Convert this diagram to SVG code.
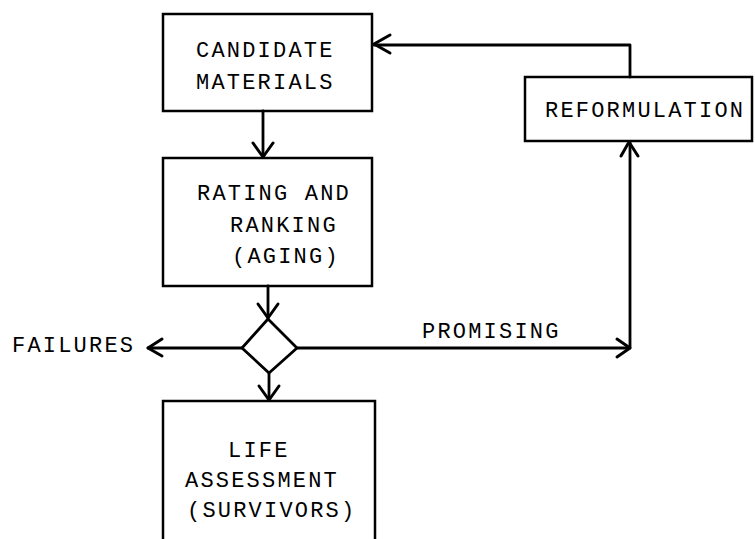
<svg xmlns="http://www.w3.org/2000/svg" width="755" height="539" viewBox="0 0 755 539">
<style>
.box{fill:none;stroke:#000;stroke-width:2.5}
.ln{fill:none;stroke:#000;stroke-width:2.8;stroke-linejoin:round;stroke-linecap:round}
.hd{fill:none;stroke:#000;stroke-width:3;stroke-linecap:round;stroke-linejoin:round}
text{font-family:"Liberation Mono","Courier New",monospace;font-size:22px;letter-spacing:2.2px;fill:#000}
</style>
<rect width="755" height="539" fill="#fff"/>
<g id="candidate">
<rect class="box" x="163" y="14" width="209" height="97"/>
<text x="196" y="57">CANDIDATE</text>
<text x="196" y="89">MATERIALS</text>
</g>
<g id="rating">
<rect class="box" x="163" y="158" width="209" height="128"/>
<text x="197" y="200">RATING AND</text>
<text x="230" y="232">RANKING</text>
<text x="232" y="263">(AGING)</text>
</g>
<g id="decision">
<polygon class="ln" points="268,319 297,348 269,373 242,348"/>
</g>
<g id="life">
<path class="box" d="M163,545 V401 H375 V545"/>
<text x="228" y="457">LIFE</text>
<text x="185" y="487">ASSESSMENT</text>
<text x="187" y="517">(SURVIVORS)</text>
</g>
<g id="reformulation">
<rect class="box" x="525" y="77" width="227" height="64"/>
<text x="545" y="117">REFORMULATION</text>
</g>
<g id="failures">
<text x="12" y="352">FAILURES</text>
</g>
<g id="promising">
<text x="422" y="338">PROMISING</text>
</g>
<g id="connectors">
<path class="ln" d="M263,111 V157"/>
<path class="hd" d="M253,143 L263,157 L273,143"/>
<path class="ln" d="M268,286 V318"/>
<path class="hd" d="M258,304 L268,318 L278,304"/>
<path class="ln" d="M269,373 V400"/>
<path class="hd" d="M259,386 L269,400 L279,386"/>
<path class="ln" d="M242,348 H148"/>
<path class="hd" d="M162,339 L148,348 L162,356"/>
<path class="ln" d="M297,348 H630 V142"/>
<path class="hd" d="M617,339 L630,348 L617,357"/>
<path class="hd" d="M621,156 L629,142 L638,156"/>
<path class="ln" d="M630,77 V45 H374"/>
<path class="hd" d="M390,35 L374,44 L390,53"/>
</g>
</svg>
